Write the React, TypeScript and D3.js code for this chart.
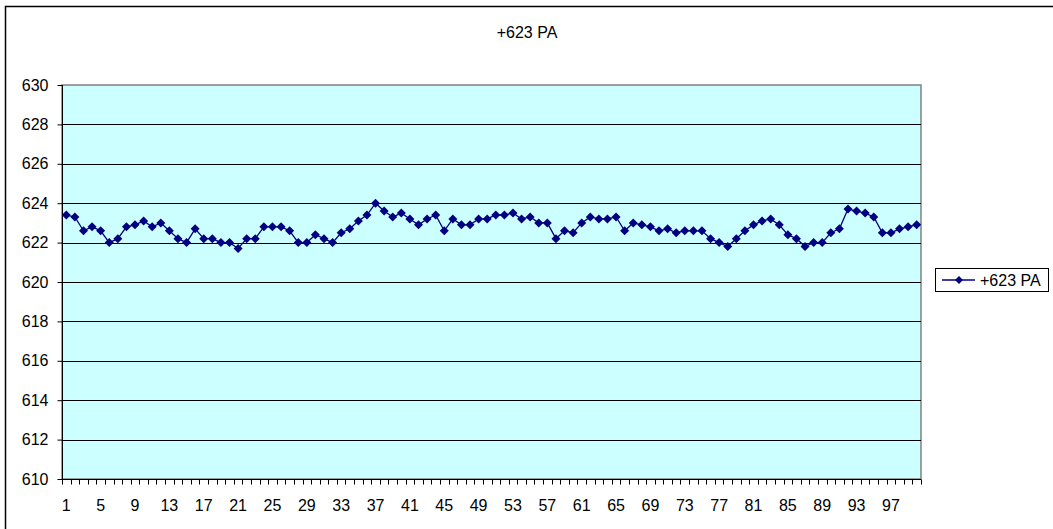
import * as d3 from "d3";
import { useEffect, useRef } from "react";

// chart data
const title = "+623 PA";
const seriesName = "+623 PA";
const categories = Array.from({ length: 100 }, (_, i) => i + 1);
const values = [
  623.4, 623.3, 622.6, 622.8, 622.6, 622.0, 622.2, 622.8, 622.9, 623.1,
  622.8, 623.0, 622.6, 622.2, 622.0, 622.7, 622.2, 622.2, 622.0, 622.0,
  621.7, 622.2, 622.2, 622.8, 622.8, 622.8, 622.6, 622.0, 622.0, 622.4,
  622.2, 622.0, 622.5, 622.7, 623.1, 623.4, 624.0, 623.6, 623.3, 623.5,
  623.2, 622.9, 623.2, 623.4, 622.6, 623.2, 622.9, 622.9, 623.2, 623.2,
  623.4, 623.4, 623.5, 623.2, 623.3, 623.0, 623.0, 622.2, 622.6, 622.5,
  623.0, 623.3, 623.2, 623.2, 623.3, 622.6, 623.0, 622.9, 622.8, 622.6,
  622.7, 622.5, 622.6, 622.6, 622.6, 622.2, 622.0, 621.8, 622.2, 622.6,
  622.9, 623.1, 623.2, 622.9, 622.4, 622.2, 621.8, 622.0, 622.0, 622.5,
  622.7, 623.7, 623.6, 623.5, 623.3, 622.5, 622.5, 622.7, 622.8, 622.9,
];
const yTicks = [610, 612, 614, 616, 618, 620, 622, 624, 626, 628, 630];
const xLabels = categories.filter((c) => (c - 1) % 4 === 0);

const W = 1053;
const H = 529;
const font = "'Liberation Sans', Arial, sans-serif";
const fontSize = "16px";

export default function App() {
  const svgRef = useRef<SVGSVGElement>(null);

  useEffect(() => {
    const svg = d3.select(svgRef.current);
    svg.selectAll("*").remove();

    // plot area box
    const plot = { left: 62, right: 921, top: 85, bottom: 479 };

    // outer chart border (runs off the right and bottom edges)
    svg
      .append("rect")
      .attr("x", 5.5)
      .attr("y", 6.5)
      .attr("width", W + 20)
      .attr("height", H + 20)
      .attr("fill", "white")
      .attr("stroke", "black")
      .attr("stroke-width", 1.5);

    const x = d3
      .scaleBand<number>()
      .domain(categories)
      .range([plot.left, plot.right]);

    const y = d3
      .scaleLinear()
      .domain([610, 630])
      .range([plot.bottom, plot.top]);

    // background of plot
    svg
      .append("rect")
      .attr("x", plot.left)
      .attr("y", plot.top)
      .attr("width", plot.right - plot.left)
      .attr("height", plot.bottom - plot.top)
      .attr("fill", "#CCFFFF")
      .attr("stroke", "#808080")
      .attr("stroke-width", 1.5);

    // gridlines
    svg
      .selectAll(".grid")
      .data(yTicks.filter((t) => t > 610 && t < 630))
      .enter()
      .append("line")
      .attr("x1", plot.left)
      .attr("x2", plot.right)
      .attr("y1", (d) => Math.round(y(d)) + 0.5)
      .attr("y2", (d) => Math.round(y(d)) + 0.5)
      .attr("stroke", "black")
      .attr("stroke-width", 1);

    // y axis
    const yAxis = svg
      .append("g")
      .attr("transform", `translate(${plot.left + 0.5},0)`)
      .call(d3.axisLeft(y).tickValues(yTicks).tickSize(5).tickPadding(9).tickFormat(d3.format("d")));
    yAxis.select(".domain").attr("stroke", "black").attr("d", `M0,${plot.top}V${plot.bottom}`);
    yAxis.selectAll(".tick line").attr("stroke", "black");
    yAxis
      .selectAll(".tick text")
      .attr("fill", "black")
      .style("font-family", font)
      .style("font-size", fontSize);

    // x axis: ticks at category boundaries, labels every 4th category
    const g = svg.append("g").attr("transform", `translate(0,${plot.bottom + 0.5})`);
    g.append("line")
      .attr("x1", plot.left)
      .attr("x2", plot.right)
      .attr("stroke", "black");
    const bounds = categories.map((c) => x(c)!).concat([plot.right]);
    g.selectAll(".xt")
      .data(bounds)
      .enter()
      .append("line")
      .attr("x1", (d) => Math.round(d) + 0.5)
      .attr("x2", (d) => Math.round(d) + 0.5)
      .attr("y1", 0)
      .attr("y2", 5)
      .attr("stroke", "black");
    g.selectAll(".xl")
      .data(xLabels)
      .enter()
      .append("text")
      .attr("x", (d) => x(d)! + x.bandwidth() / 2)
      .attr("y", 31)
      .attr("text-anchor", "middle")
      .style("font-family", font)
      .style("font-size", fontSize)
      .text((d) => d);

    // line + markers
    const line = d3
      .line<number>()
      .x((d, i) => x(categories[i])! + x.bandwidth() / 2)
      .y((d) => y(d));
    svg
      .append("path")
      .datum(values)
      .attr("d", line)
      .attr("fill", "none")
      .attr("stroke", "#000080")
      .attr("stroke-width", 1.3);

    const diamond = (cx: number, cy: number, r: number) =>
      `M${cx},${cy - r}L${cx + r},${cy}L${cx},${cy + r}L${cx - r},${cy}Z`;
    svg
      .selectAll(".pt")
      .data(values)
      .enter()
      .append("path")
      .attr("d", (d, i) => diamond(x(categories[i])! + x.bandwidth() / 2, y(d), 4.5))
      .attr("fill", "#000080");

    // title
    svg
      .append("text")
      .attr("x", 527)
      .attr("y", 38)
      .attr("text-anchor", "middle")
      .style("font-family", font)
      .style("font-size", fontSize)
      .text(title);

    // legend
    const lg = svg.append("g").attr("transform", "translate(935,268)");
    lg.append("rect")
      .attr("x", 0.5)
      .attr("y", 0.5)
      .attr("width", 113)
      .attr("height", 23)
      .attr("fill", "white")
      .attr("stroke", "black");
    lg.append("line")
      .attr("x1", 7)
      .attr("x2", 40)
      .attr("y1", 12)
      .attr("y2", 12)
      .attr("stroke", "#000080")
      .attr("stroke-width", 1.3);
    lg.append("path").attr("d", diamond(24, 12, 4)).attr("fill", "#000080");
    lg.append("text")
      .attr("x", 45)
      .attr("y", 17.5)
      .style("font-family", font)
      .style("font-size", fontSize)
      .text(seriesName);
  }, []);

  return (
    <svg
      ref={svgRef}
      width={W}
      height={H}
      style={{ position: "absolute", left: 0, top: 0, background: "white" }}
    />
  );
}
